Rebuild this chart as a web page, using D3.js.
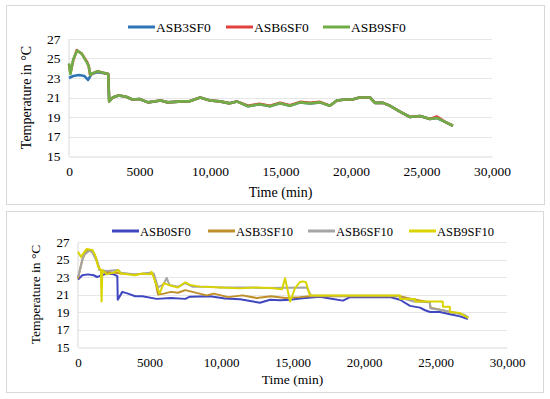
<!DOCTYPE html>
<html>
<head>
<meta charset="utf-8">
<script src="https://cdn.jsdelivr.net/npm/d3@7"></script>
<style>
  body { margin: 0; background: #fff; }
  svg { display: block; }
</style>
</head>
<body>
<svg id="chart" width="550" height="399"></svg>
<script>
// ---- data (time in min, temperature in °C) ----
const xTicks = [0, 5000, 10000, 15000, 20000, 25000, 30000];
const yTicks = [15, 17, 19, 21, 23, 25, 27];

const tail = [[2850,20.6],[3100,21.0],[3500,21.2],[4000,21.1],[4500,20.8],[5000,20.85],[5600,20.5],[6500,20.7],
  [7000,20.5],[8000,20.6],[8500,20.6],[9300,21.0],[10000,20.7],[10700,20.6],[11400,20.4],[11900,20.6],
  [12700,20.1],[13500,20.3],[14250,20.1],[14960,20.4],[15670,20.15],[16400,20.5],[17100,20.4],[17800,20.5],
  [18500,20.15],[19000,20.7],[19600,20.8],[20100,20.8],[20600,21.0],[21350,21.0],[21700,20.45],[22270,20.45],
  [22770,20.15],[23470,19.55],[24180,19.0],[24900,19.1],[25600,18.8],[26100,18.9],[26670,18.5],[27230,18.1]];

const asb3sf0 = [[0,23.0],[300,23.2],[700,23.3],[1100,23.2],[1350,22.8],[1600,23.4],[2000,23.6],[2500,23.5],[2780,23.4]].concat(tail);
const asb6sf0 = [[0,24.4],[100,23.5],[300,24.8],[550,25.85],[900,25.5],[1300,24.6],[1400,24.2],[1500,23.3],[1700,23.5],
  [2050,23.7],[2500,23.5],[2780,23.4]].concat(tail.map(d => [d[0], d[0] === 26100 ? 19.05 : d[1] + (d[0] > 12000 && d[0] < 18000 ? 0.05 : 0)]));
const asb9sf0 = [[0,24.5],[100,23.4],[300,24.9],[570,25.8],[900,25.5],[1300,24.5],[1400,24.2],[1500,23.3],[1700,23.5],
  [2050,23.7],[2500,23.5],[2780,23.4]].concat(tail);

const asb0sf0 = [[0,22.7],[300,23.2],[700,23.3],[1100,23.2],[1330,23.0],[1500,23.1],[2000,23.4],[2500,23.3],[2750,23.1],
  [2780,20.4],[3100,21.3],[3500,21.1],[4000,20.8],[4500,20.8],[5500,20.5],[6500,20.6],[7500,20.5],[7830,20.75],
  [9230,20.8],[10280,20.55],[11330,20.45],[12730,20.05],[13430,20.4],[14130,20.35],[14830,20.4],[15520,20.55],
  [16920,20.75],[17620,20.55],[18530,20.3],[19020,20.7],[21820,20.7],[22520,20.4],[23220,19.7],[23920,19.5],
  [24270,19.2],[24620,19.0],[25310,19.0],[26010,18.75],[26710,18.5],[27270,18.2]];
const asb3sf10 = [[0,22.8],[300,25.0],[600,26.1],[1000,26.0],[1300,25.0],[1500,23.8],[2000,23.6],[2500,23.5],[3000,23.4],
  [4000,23.3],[5000,23.4],[5300,23.3],[5600,21.0],[6000,21.1],[6500,21.3],[7000,21.2],[7500,21.5],[8500,21.1],
  [9000,20.9],[9500,21.1],[10500,20.7],[11500,20.9],[12500,20.6],[13500,20.8],[14500,20.6],[15500,20.7],
  [16200,20.8],[22500,20.8],[23000,20.6],[24600,20.1],[24650,19.5],[25500,19.2],[26000,19.0],[26500,18.9],[27200,18.5]];
const asb6sf10 = [[0,23.0],[400,25.5],[800,26.0],[1000,25.8],[1400,24.5],[1500,23.8],[2000,23.7],[2800,23.8],[3000,23.5],
  [4000,23.3],[5000,23.5],[5300,23.4],[5600,21.8],[6000,22.2],[6200,22.9],[6400,22.1],[7000,21.9],[7500,22.3],[8000,21.9],
  [9000,21.9],[10000,21.8],[12000,21.8],[13000,21.75],[16000,21.8],[16300,20.85],[22500,20.85],[22600,20.6],
  [23500,20.2],[24600,20.1],[24650,19.4],[25500,19.2],[26000,19.0],[27000,18.7],[27300,18.4]];
const asb9sf10 = [[0,25.9],[200,25.3],[600,26.2],[1000,26.1],[1200,25.5],[1400,24.2],[1600,23.8],[1650,20.2],[1700,23.8],
  [2000,23.3],[2500,23.5],[2800,23.8],[3000,23.4],[4000,23.2],[4500,23.4],[5000,23.3],[5150,23.6],[5500,22.0],[5700,21.1],
  [6000,22.3],[6500,22.0],[7000,21.8],[7500,22.4],[7830,22.1],[8530,21.9],[9930,21.8],[11330,21.7],[12380,21.8],
  [13430,21.75],[14270,21.6],[14480,22.85],[14830,20.2],[15170,21.7],[15500,22.4],[15730,22.5],[15940,22.4],[16220,20.9],
  [22520,20.9],[22530,20.5],[23570,20.5],[23580,20.2],[25500,20.2],[25520,19.6],[26000,19.6],[26010,19.0],[26700,18.9],[27300,18.3]];

const topSeries = [
  { name: "ASB3SF0", data: asb3sf0, color: "#2E75B6" },
  { name: "ASB6SF0", data: asb6sf0, color: "#E0413E" },
  { name: "ASB9SF0", data: asb9sf0, color: "#70AD47" }
];
const bottomSeries = [
  { name: "ASB0SF0", data: asb0sf0, color: "#3F46C0" },
  { name: "ASB3SF10", data: asb3sf10, color: "#BF8F2A" },
  { name: "ASB6SF10", data: asb6sf10, color: "#A5A5A5" },
  { name: "ASB9SF10", data: asb9sf10, color: "#D9D400" }
];

const FONT = "'Liberation Serif', 'Times New Roman', serif";
const svg = d3.select("#chart");

function drawPanel(cfg) {
  const g = svg.append("g");
  g.append("rect")
    .attr("x", cfg.box[0] + 0.5).attr("y", cfg.box[1] + 0.5)
    .attr("width", cfg.box[2]).attr("height", cfg.box[3])
    .attr("fill", "#fff").attr("stroke", "#d9d9d9");

  const x = d3.scaleLinear().domain([0, 30000]).range([cfg.left, cfg.right]);
  const y = d3.scaleLinear().domain([15, 27]).range([cfg.bottom, cfg.top]);

  // gridlines
  g.append("g").selectAll("line").data(yTicks.slice(1)).enter().append("line")
    .attr("x1", cfg.left).attr("x2", cfg.right)
    .attr("y1", d => Math.round(y(d)) + 0.5).attr("y2", d => Math.round(y(d)) + 0.5)
    .attr("stroke", "#e6e6e6");

  const xAxis = g.append("g")
    .attr("transform", `translate(0, ${Math.round(cfg.bottom) + 0.5})`)
    .call(d3.axisBottom(x).tickValues(xTicks).tickSize(0).tickPadding(10)
      .tickFormat(d => d === 5000 ? "5000" : d3.format(",")(d)));
  xAxis.select(".domain").attr("stroke", "#d9d9d9");
  xAxis.selectAll("text").attr("fill", "#000")
    .style("font-family", FONT).style("font-size", cfg.tickSize + "px");

  const yAxis = g.append("g")
    .attr("transform", `translate(${cfg.left - 0.5}, 0)`)
    .call(d3.axisLeft(y).tickValues(yTicks).tickSize(0).tickPadding(cfg.yPad));
  yAxis.select(".domain").attr("stroke", "#d9d9d9");
  yAxis.selectAll("text").attr("fill", "#000")
    .style("font-family", FONT).style("font-size", cfg.tickSize + "px");

  const line = d3.line().x(d => x(d[0])).y(d => y(d[1]));
  cfg.series.forEach(s => {
    g.append("path").datum(s.data)
      .attr("d", line)
      .attr("fill", "none")
      .attr("stroke", s.color)
      .attr("stroke-width", cfg.lineWidth)
      .attr("stroke-linejoin", "round");
  });

  // legend
  const leg = g.append("g");
  cfg.series.forEach((s, i) => {
    const lx = cfg.legendX[i];
    leg.append("line").attr("x1", lx).attr("x2", lx + 27)
      .attr("y1", cfg.legendY).attr("y2", cfg.legendY)
      .attr("stroke", s.color).attr("stroke-width", 3);
    leg.append("text").attr("x", lx + 28).attr("y", cfg.legendY + 4.5)
      .style("font-family", FONT).style("font-size", cfg.legendSize + "px")
      .text(s.name);
  });

  g.append("text")
    .attr("x", (cfg.left + cfg.right) / 2).attr("y", cfg.titleY)
    .attr("text-anchor", "middle")
    .style("font-family", FONT).style("font-size", cfg.titleSize + "px")
    .text("Time (min)");
  g.append("text")
    .attr("transform", `translate(${cfg.yTitleX}, ${(cfg.top + cfg.bottom) / 2}) rotate(-90)`)
    .attr("text-anchor", "middle")
    .style("font-family", FONT).style("font-size", cfg.titleSize + "px")
    .text("Temperature in °C");
}

drawPanel({
  box: [6, 5, 538, 199],
  left: 69, right: 492, top: 39, bottom: 156,
  series: topSeries, lineWidth: 2.6,
  tickSize: 13.5, legendSize: 13.5, titleSize: 14, yPad: 8,
  legendX: [128, 226, 323], legendY: 27,
  titleY: 197, yTitleX: 31
});

drawPanel({
  box: [6, 211, 537, 181],
  left: 78, right: 507, top: 242, bottom: 347,
  series: bottomSeries, lineWidth: 2,
  tickSize: 13, legendSize: 12.5, titleSize: 13.5, yPad: 8,
  legendX: [112, 208, 308, 409], legendY: 231,
  titleY: 384, yTitleX: 40
});
</script>
</body>
</html>
